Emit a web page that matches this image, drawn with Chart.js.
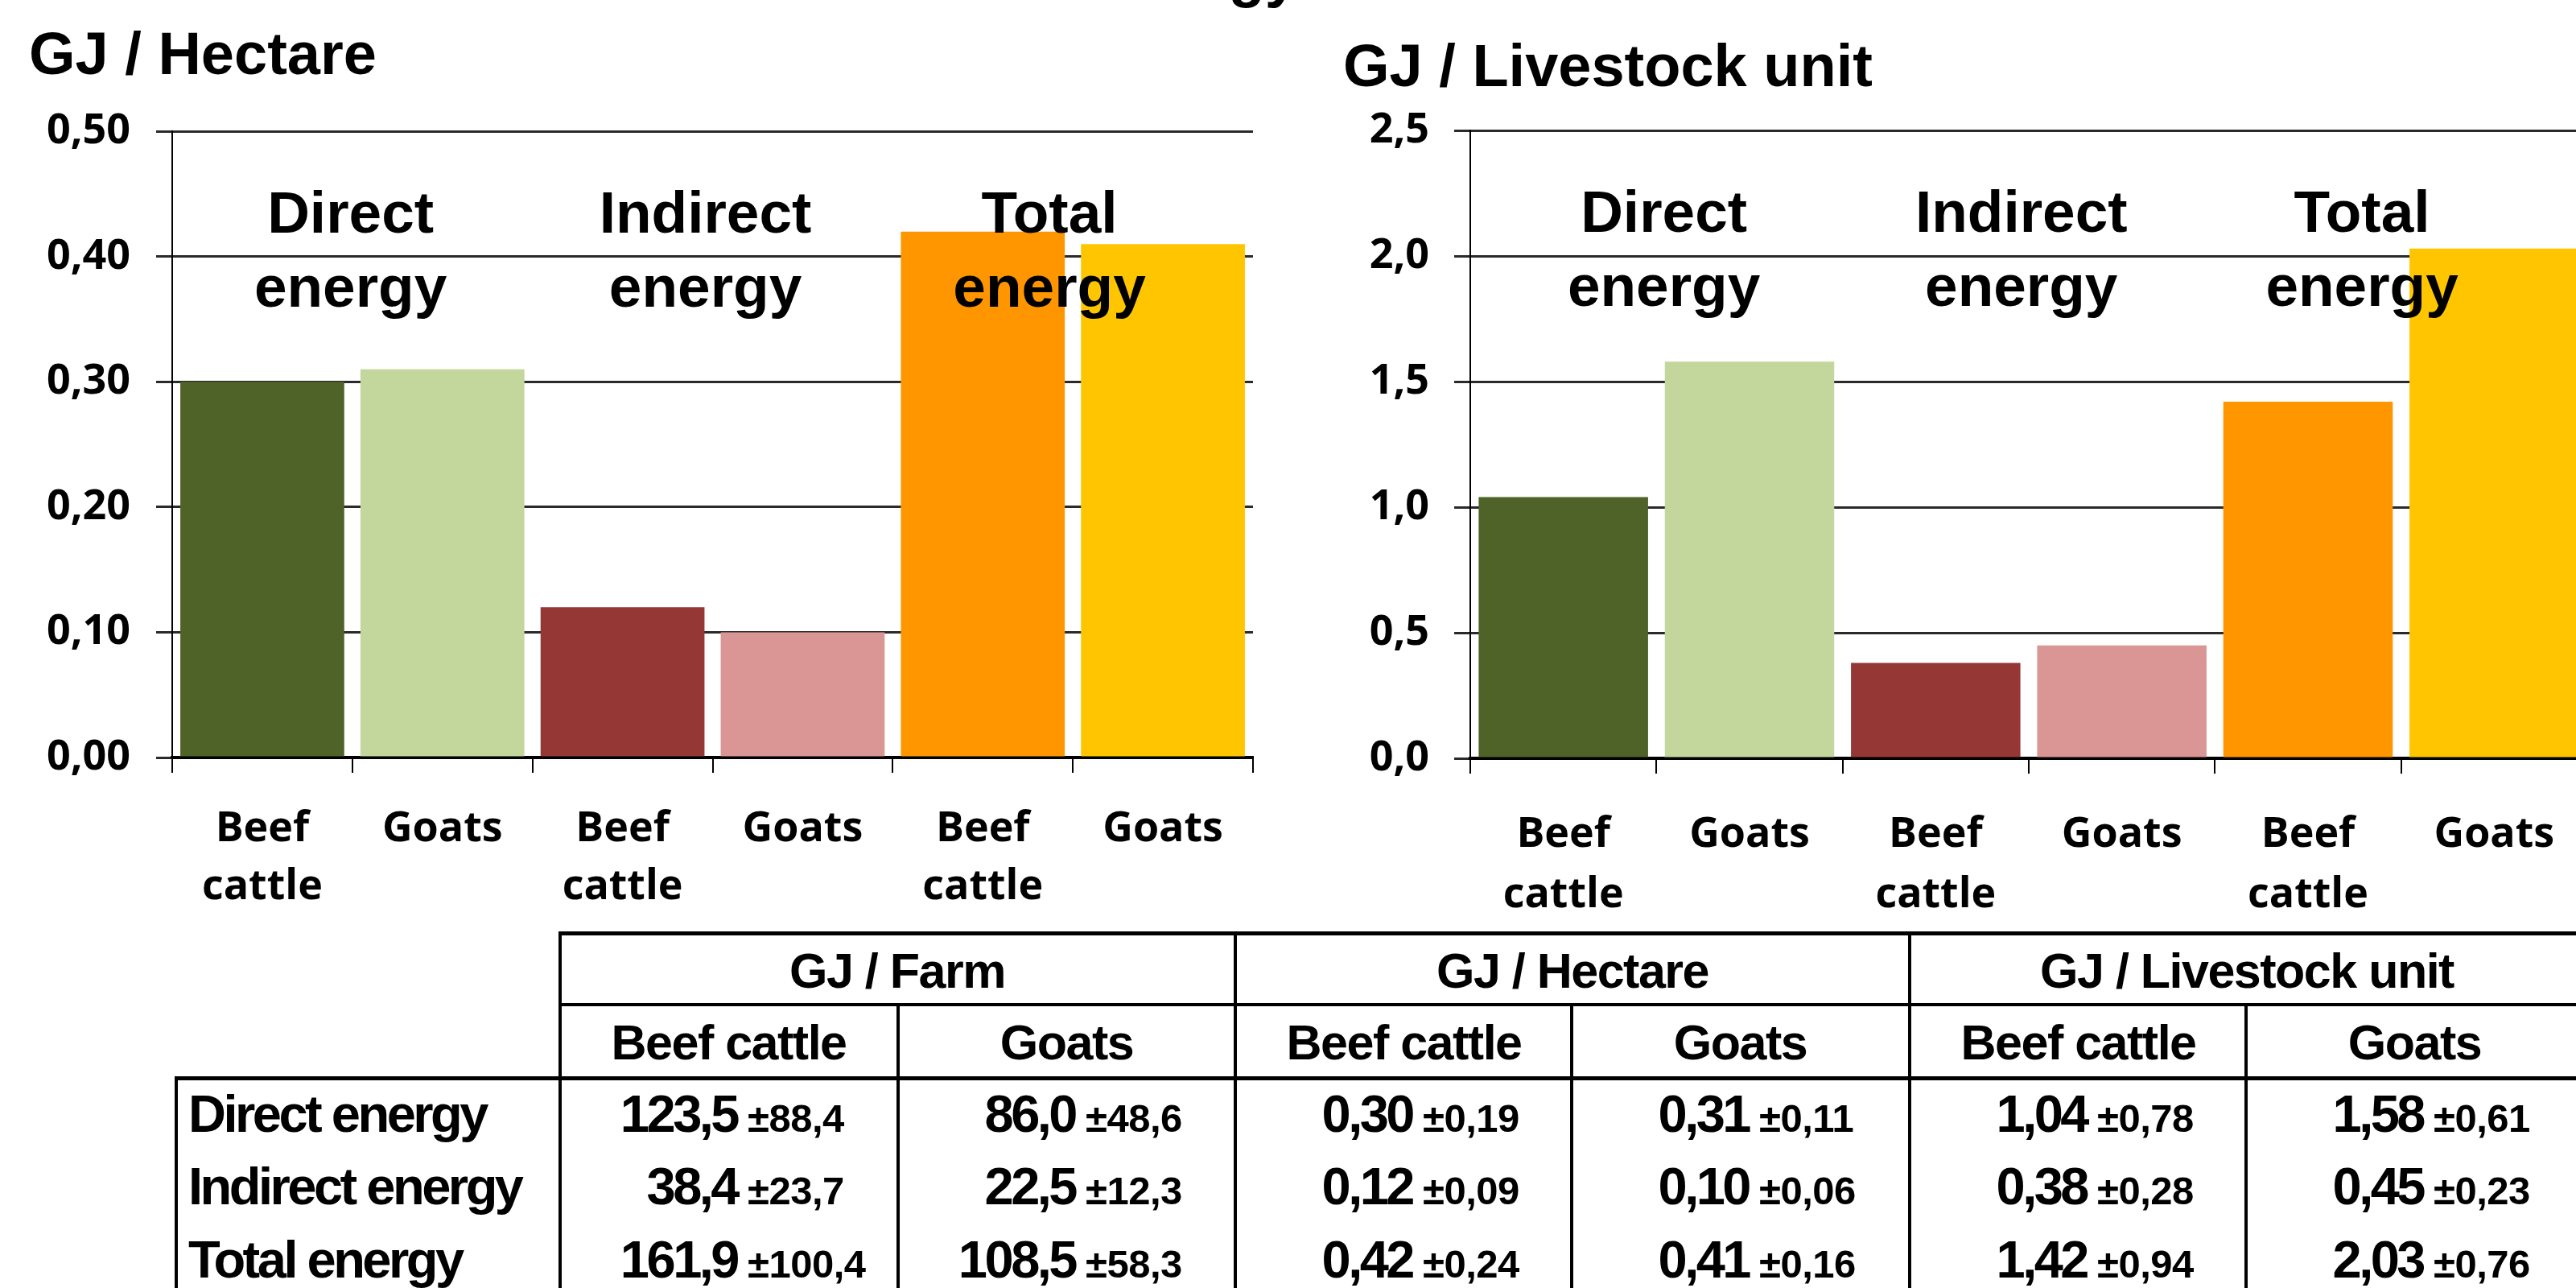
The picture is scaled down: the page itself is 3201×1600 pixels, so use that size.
<!DOCTYPE html>
<html>
<head>
<meta charset="utf-8">
<script src="https://cdn.jsdelivr.net/npm/chart.js@4.4.1/dist/chart.umd.min.js"></script>
<style>
    html, body { margin: 0; padding: 0; background: #fff; }
    body {
        width: 3201px; height: 1600px; overflow: hidden; position: relative;
        font-family: 'Liberation Sans', Arial, sans-serif; font-weight: bold; color: #000;
    }
    .abs { position: absolute; white-space: nowrap; }
    .line { position: absolute; background: #000; }
    .big { display: inline-block; width: 220px; text-align: right; font-size: 65px; letter-spacing: -3.5px; }
    .sm { font-size: 49px; letter-spacing: -0.5px; }
    #hectareBox { position: absolute; left: 0; top: 100px; width: 1600px; height: 1060px; }
    #livestockBox { position: absolute; left: 1600px; top: 100px; width: 1660px; height: 1060px; }
</style>
</head>
<body>
<div id="hectareBox"><canvas id="hectareChart"></canvas></div>
<div id="livestockBox"><canvas id="livestockChart"></canvas></div>
<script>
// 圖表數據
const xLabels = [['Beef', 'cattle'], 'Goats', ['Beef', 'cattle'], 'Goats', ['Beef', 'cattle'], 'Goats'];
const barColors = ['#4f6228', '#c3d69b', '#953735', '#d99694', '#ff9600', '#ffc600'];
const hectareValues = [0.30, 0.31, 0.12, 0.10, 0.42, 0.41];
const livestockValues = [1.04, 1.58, 0.38, 0.45, 1.42, 2.03];
const groupLabels = [['Direct', 'energy'], ['Indirect', 'energy'], ['Total', 'energy']];

// 表格數據
const tableGroups = ['GJ / Farm', 'GJ / Hectare', 'GJ / Livestock unit'];
const tableSpecies = ['Beef cattle', 'Goats'];
const tableRows = ['Direct energy', 'Indirect energy', 'Total energy'];
const farmBeef = [123.5, 38.4, 161.9];
const farmBeefSd = [88.4, 23.7, 100.4];
const farmGoats = [86.0, 22.5, 108.5];
const farmGoatsSd = [48.6, 12.3, 58.3];
const hectareBeef = [0.30, 0.12, 0.42];
const hectareBeefSd = [0.19, 0.09, 0.24];
const hectareGoats = [0.31, 0.10, 0.41];
const hectareGoatsSd = [0.11, 0.06, 0.16];
const livestockBeef = [1.04, 0.38, 1.42];
const livestockBeefSd = [0.78, 0.28, 0.94];
const livestockGoats = [1.58, 0.45, 2.03];
const livestockGoatsSd = [0.61, 0.23, 0.76];

const fmt = (v, d) => v.toFixed(d).replace('.', ',');
const tickFont = "'Open Sans', 'DejaVu Sans', sans-serif";

// 組別標籤 (畫在柱子上面)
function groupLabelPlugin(positions) {
    return {
        id: 'groupLabels',
        afterDatasetsDraw(chart) {
            const ctx = chart.ctx;
            const xScale = chart.scales.x;
            const top = chart.chartArea.top;
            ctx.save();
            ctx.font = 'bold 73px "Liberation Sans", Arial, sans-serif';
            ctx.fillStyle = '#000';
            ctx.textAlign = 'center';
            ctx.textBaseline = 'alphabetic';
            groupLabels.forEach((lines, i) => {
                const px = xScale.getPixelForValue(positions[i]);
                lines.forEach((t, j) => ctx.fillText(t, px, top + 126 + j * 92));
            });
            ctx.restore();
        }
    };
}

function makeChart(id, values, yMax, yStep, decimals, o) {
    return new Chart(document.getElementById(id), {
        type: 'bar',
        data: {
            labels: xLabels,
            datasets: [{
                data: values,
                backgroundColor: barColors,
                barPercentage: 0.91,
                categoryPercentage: 1
            }]
        },
        options: {
            responsive: true,
            maintainAspectRatio: false,
            animation: false,
            layout: { padding: { top: o.top, right: o.right, left: 0, bottom: 0 } },
            plugins: { legend: { display: false }, tooltip: { enabled: false } },
            scales: {
                x: {
                    grid: { drawOnChartArea: false, drawTicks: true, tickLength: 19, lineWidth: 2, color: '#000', offset: true },
                    border: { display: true, color: '#000', width: 4 },
                    ticks: {
                        color: '#000', padding: o.xPad, maxRotation: 0, autoSkip: false,
                        font: { family: tickFont, weight: 'bold', size: 52, lineHeight: o.lh }
                    },
                    afterFit: s => { s.height = o.xHeight; }
                },
                y: {
                    min: 0,
                    max: yMax,
                    grid: { color: '#2a2a2a', lineWidth: 3, tickLength: 20 },
                    border: { display: true, color: '#000', width: 2 },
                    ticks: {
                        stepSize: yStep, color: '#000', padding: o.yPad,
                        font: { family: tickFont, weight: 'bold', size: 52 },
                        callback: v => fmt(v, decimals)
                    },
                    afterFit: s => { s.width = o.yWidth; }
                }
            }
        },
        plugins: [groupLabelPlugin(o.labelPos)]
    });
}

makeChart('hectareChart', hectareValues, 0.5, 0.1, 2, {
    top: 63, right: 43, xHeight: 219, yWidth: 214, xPad: 34, yPad: 32, lh: 1.385,
    labelPos: [0.49, 2.46, 4.37]
});
makeChart('livestockChart', livestockValues, 2.5, 0.5, 1, {
    top: 62, right: 45, xHeight: 218, yWidth: 227, xPad: 39, yPad: 31, lh: 1.44,
    labelPos: [0.54, 2.46, 4.29]
});

// 文字與線條輔助
function addText(html, left, width, baseline, size, spacing, align) {
    const d = document.createElement('div');
    d.className = 'abs';
    d.style.left = left + 'px';
    if (width) {
        d.style.width = width + 'px';
        d.style.textAlign = align || 'center';
    }
    d.style.fontSize = size + 'px';
    d.style.lineHeight = size + 'px';
    d.style.letterSpacing = spacing + 'px';
    d.style.top = (baseline - 0.8465 * size) + 'px';
    d.innerHTML = html;
    document.body.appendChild(d);
}

function addLine(x, y, w, h) {
    const d = document.createElement('div');
    d.className = 'line';
    d.style.left = x + 'px';
    d.style.top = y + 'px';
    d.style.width = w + 'px';
    d.style.height = h + 'px';
    document.body.appendChild(d);
}

// 標題
addText('Energy', 1013, 600, -4, 74, 0, 'right');
addText('GJ / Hectare', 36, 0, 93, 74, 0);
addText('GJ / Livestock unit', 1669, 0, 108, 74, 0);

// 表格
const colLefts = [696, 1116, 1535, 1953, 2373, 2791];
const colWidth = 419;
const rowBaselines = [1406, 1496, 1587];
const cells = [
    [farmBeef, farmBeefSd, 1], [farmGoats, farmGoatsSd, 1],
    [hectareBeef, hectareBeefSd, 2], [hectareGoats, hectareGoatsSd, 2],
    [livestockBeef, livestockBeefSd, 2], [livestockGoats, livestockGoatsSd, 2]
];

addLine(696, 1157, 2600, 5);
addLine(696, 1246, 2600, 4);
addLine(219, 1337, 3000, 5);
addLine(217, 1337, 4, 300);
colLefts.forEach((x, i) => {
    const y0 = i % 2 === 0 ? 1157 : 1246;
    addLine(x - 2, y0, 4, 1600 - y0);
});

tableGroups.forEach((g, i) => {
    addText(g, colLefts[i * 2], colWidth * 2, 1228, 61, -1.5);
    tableSpecies.forEach((s, j) => {
        addText(s, colLefts[i * 2 + j], colWidth, 1317, 61, -1.5);
    });
});

tableRows.forEach((r, i) => {
    addText(r, 234, 0, rowBaselines[i], 65, -3.5);
    cells.forEach((c, j) => {
        const html = '<span class="big">' + fmt(c[0][i], c[2]) + '</span><span class="sm"> \u00b1' + fmt(c[1][i], c[2]) + '</span>';
        addText(html, colLefts[j], 0, rowBaselines[i], 65, 0);
    });
});
</script>
</body>
</html>
